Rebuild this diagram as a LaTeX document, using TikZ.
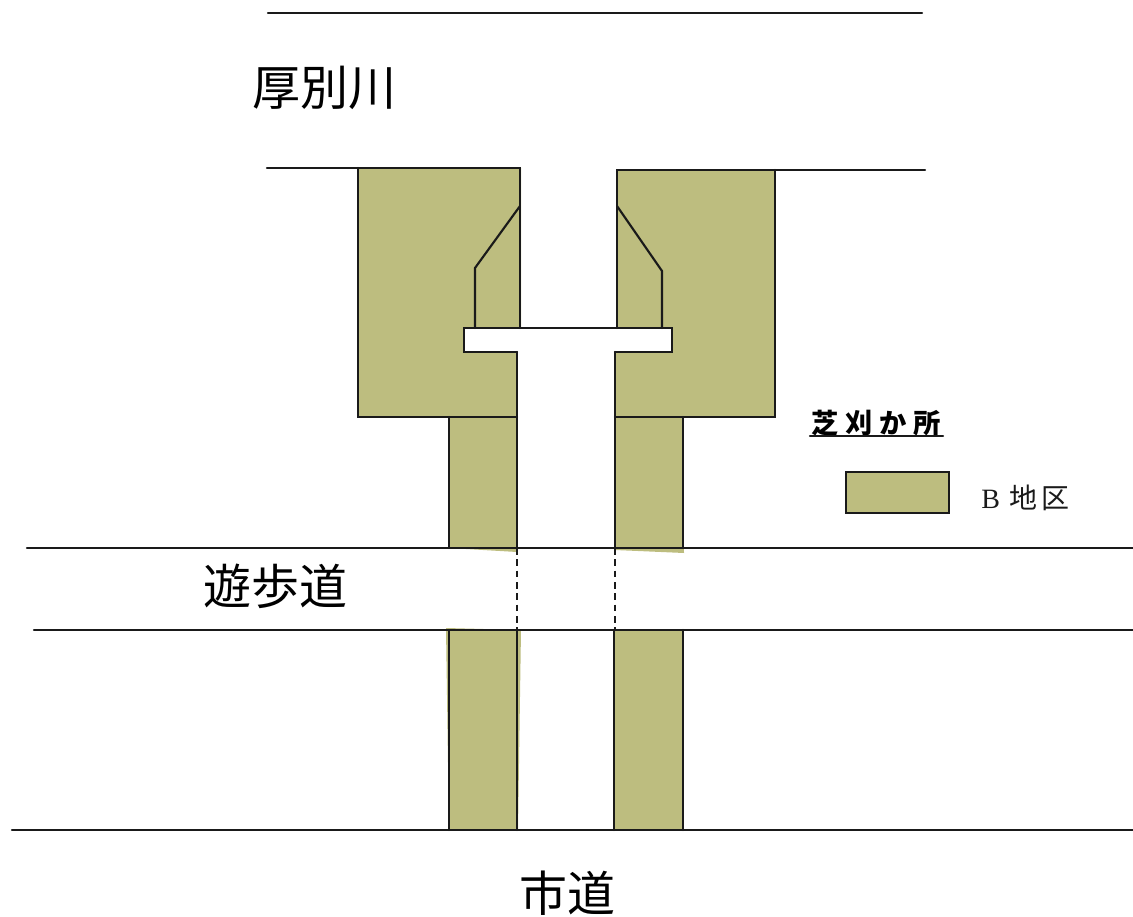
\documentclass[tikz,border=0pt]{standalone}
\usepackage{fontspec}
\newfontfamily\jp{Noto Sans CJK JP}
\newfontfamily\lat{Liberation Serif}
\definecolor{area}{HTML}{BDBD7F}
\definecolor{ink}{HTML}{1A1A1A}
\tikzset{
  ln/.style={draw=ink,line width=1.6pt,line cap=round,line join=miter},
  region/.style={fill=area,draw=none},
  dash ln/.style={draw=ink,line width=1.2pt,dash pattern=on 5pt off 3.5pt},
  big/.style={font=\jp\fontsize{36}{38}\selectfont,inner sep=0pt,text=black},
}
\begin{document}
\begin{tikzpicture}[x=0.75pt,y=-0.75pt]
\useasboundingbox (0,0) rectangle (1133,917);
% filled regions
\fill[region] (358,168) -- (521,168) -- (521,328) -- (464,328) -- (464,352) -- (517,352) -- (517,417) -- (358,417) -- cycle;
\fill[region] (617,170) -- (775,170) -- (775,417) -- (615,417) -- (615,352) -- (672,352) -- (672,328) -- (617,328) -- cycle;
\fill[region] (449,417) -- (517,417) -- (517,552) -- (449,548) -- cycle;
\fill[region] (615,417) -- (683,417) -- (684,553) -- (615,550) -- cycle;
\fill[region] (446,628) -- (521,630) -- (518,830) -- (449,830) -- cycle;
\fill[region] (614,630) -- (683,630) -- (683,830) -- (614,830) -- cycle;
% named points
\coordinate (t1) at (268,13); \coordinate (t2) at (922,13);
\coordinate (ra) at (267,168); \coordinate (rb) at (358,168); \coordinate (rc) at (520,168);
\coordinate (rd) at (925,170); \coordinate (re) at (775,170); \coordinate (rf) at (617,170);
\coordinate (ba) at (464,328); \coordinate (bb) at (672,328); \coordinate (bc) at (672,352);
\coordinate (bd) at (464,352); \coordinate (be) at (517,352); \coordinate (bf) at (615,352);
\coordinate (la) at (27,548); \coordinate (lb) at (1133,548);
\coordinate (ma) at (34,630); \coordinate (mb) at (1133,630);
\coordinate (na) at (12,830); \coordinate (nb) at (1133,830);
% top lines
\draw[ln] (t1) -- (t2);
\draw[ln] (ra) -- (rc) -- (520,328);
\draw[ln] (rd) -- (rf) -- (617,328);
% outer block
\draw[ln] (rb) -- (358,417) -- (517,417);
\draw[ln] (re) -- (775,417) -- (615,417);
% inner chamfers
\draw[ln] (520,206) -- (475,268) -- (475,328);
\draw[ln] (617,206) -- (662,271) -- (662,328);
% white bar
\draw[ln] (be) -- (bd) -- (ba) -- (bb) -- (bc) -- (bf);
% channel walls
\draw[ln] (be) -- (517,548);
\draw[ln] (bf) -- (615,548);
\draw[ln] (449,417) -- (449,548);
\draw[ln] (683,417) -- (683,548);
% roads
\draw[ln] (la) -- (lb);
\draw[ln] (ma) -- (mb);
\draw[ln] (na) -- (nb);
\draw[dash ln] (517,548) -- (517,630);
\draw[dash ln] (615,548) -- (615,630);
% lower strips
\draw[ln] (449,630) -- (449,830);
\draw[ln] (517,630) -- (517,830);
\draw[ln] (614,630) -- (614,830);
\draw[ln] (683,630) -- (683,830);
% labels
\node[big] (river) at (324,88) {厚別川};
\node[big] (walk) at (275,586) {遊歩道};
\node[big] (road) at (567,893) {市道};
\node[font=\jp\bfseries\fontsize{20.5}{22}\selectfont,inner sep=0pt] (title) at (876.5,423) {芝\hspace{5pt}刈\hspace{5pt}か\hspace{5pt}所};
\coordinate (ua) at (810,436); \coordinate (ub) at (943,436);
\draw[ln] (ua) -- (ub);
\node[draw=ink,line width=1.9pt,fill=area,minimum width=77.5pt,minimum height=31pt,inner sep=0pt,anchor=north west] (key) at (844.5,470.5) {};
\node[font=\jp\fontsize{21}{23}\selectfont,inner sep=0pt,text=ink,anchor=west] (keylab) at (981,498) {{\lat B}\hspace{7pt}地\hspace{3pt}区};
\end{tikzpicture}
\end{document}
